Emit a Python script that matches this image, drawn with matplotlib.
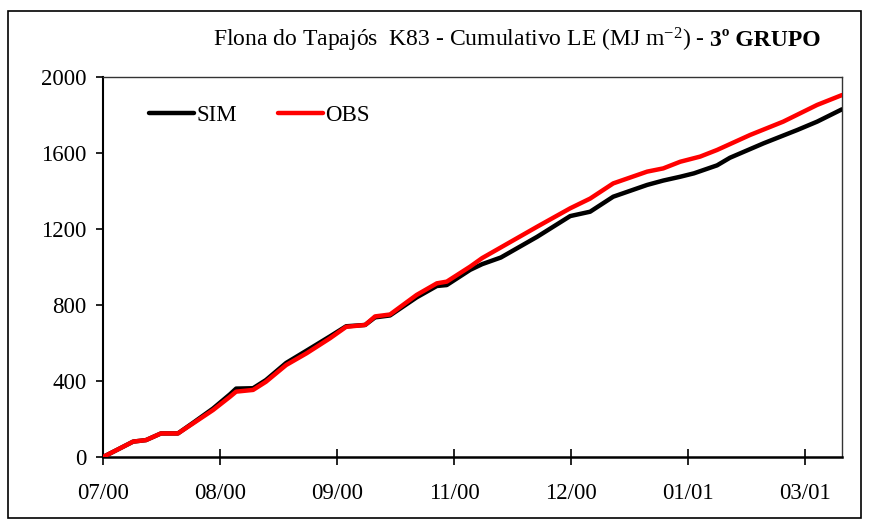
import matplotlib
matplotlib.use("Agg")
import matplotlib.pyplot as plt
from matplotlib.patches import Rectangle

plt.rcParams['font.family'] = ['Liberation Serif', 'DejaVu Serif']
plt.rcParams['mathtext.fontset'] = 'custom'
plt.rcParams['mathtext.rm'] = 'Liberation Serif'
plt.rcParams['mathtext.it'] = 'Liberation Serif:italic'

# dias desde o inicio da serie e LE acumulado (MJ m-2)
obs_dias = [0, 5.1, 10.3, 14.7, 19.8, 25.6, 30.8, 37.6, 43.4, 45.5, 51.3, 55.7,
            62.6, 69.6, 77.6, 83.1, 89.6, 93.0, 98.1, 107.2, 114.1, 117.5,
            125.5, 129.6, 148.4, 159.7, 166.5, 174.4, 186.0, 191.5, 197.3,
            204.1, 209.9, 221.2, 232.5, 244.1, 252.6]
obs_le = [0, 40, 81, 89, 124, 124, 177, 247, 317, 344, 353, 396,
          484, 546, 625, 685, 695, 740, 750, 853, 914, 923,
          1002, 1047, 1212, 1309, 1360, 1440, 1502, 1519, 1554,
          1581, 1616, 1695, 1765, 1853, 1905]

sim_dias = [0, 5.1, 10.3, 14.7, 19.8, 25.6, 30.8, 37.6, 43.4, 45.5, 51.3, 55.7,
            62.6, 69.6, 77.6, 83.1, 89.6, 93.0, 98.1, 107.2, 114.1, 117.5,
            125.5, 129.6, 136.0, 148.4, 159.7, 166.5, 174.4, 186.0, 191.5,
            197.3, 202.0, 209.9, 214.3, 225.8, 237.3, 244.1, 252.6]
sim_le = [0, 40, 81, 89, 124, 124, 180, 255, 330, 360, 362, 405,
          495, 560, 635, 688, 695, 735, 745, 840, 900, 905,
          985, 1015, 1050, 1159, 1268, 1291, 1370, 1432, 1455,
          1475, 1493, 1535, 1575, 1651, 1721, 1765, 1830]

x_ticks = [0, 40, 80, 120, 160, 200, 240]
x_labels = ['07/00', '08/00', '09/00', '11/00', '12/00', '01/01', '03/01']
y_ticks = [0, 400, 800, 1200, 1600, 2000]

fig = plt.figure(figsize=(8.69, 5.28), dpi=100)
ax = fig.add_axes([103 / 869, 71 / 528, 739 / 869, 380 / 528])

ax.plot(sim_dias, sim_le, color='black', lw=3.2, label='SIM',
        solid_capstyle='round', zorder=3)
ax.plot(obs_dias, obs_le, color='#ff0000', lw=3.2, label='OBS',
        solid_capstyle='round', zorder=4)

ax.set_xlim(0, 252.6)
ax.set_ylim(0, 2000)
ax.set_xticks(x_ticks)
ax.set_xticklabels(x_labels)
ax.set_yticks(y_ticks)
ax.tick_params(axis='y', direction='out', length=5, width=1.2, labelsize=16.5, pad=7)
ax.tick_params(axis='x', direction='inout', length=11, width=1.2, labelsize=16.5, pad=13)

ax.spines['left'].set_linewidth(1.5)
ax.spines['bottom'].set_linewidth(1.8)
for s in ('top', 'right'):
    ax.spines[s].set_linewidth(1.0)
    ax.spines[s].set_color('#333333')

ax.legend(loc='upper left', bbox_to_anchor=(0.035, 0.98), ncol=2, frameon=False,
          fontsize=16.5, handlelength=1.95, handletextpad=0.1, columnspacing=1.8)

# titulo: parte normal + "3º GRUPO" em negrito
t1 = fig.text(213 / 869, 1 - 40 / 528,
              'Flona do Tapajós  K83 - Cumulativo LE (MJ m$^{-2}$) -',
              fontsize=17, ha='left', va='center')
fig.canvas.draw()
bb = t1.get_window_extent()
fig.text((bb.x1 + 5) / fig.bbox.width, 1 - 40 / 528, '3º GRUPO',
         fontsize=17, fontweight='bold', ha='left', va='center')

# moldura externa
fig.patches.append(Rectangle((8 / 869, 10 / 528), 853 / 869, 507 / 528,
                             transform=fig.transFigure, fill=False,
                             edgecolor='black', lw=1.2))

fig.savefig('out.png', dpi=100)
